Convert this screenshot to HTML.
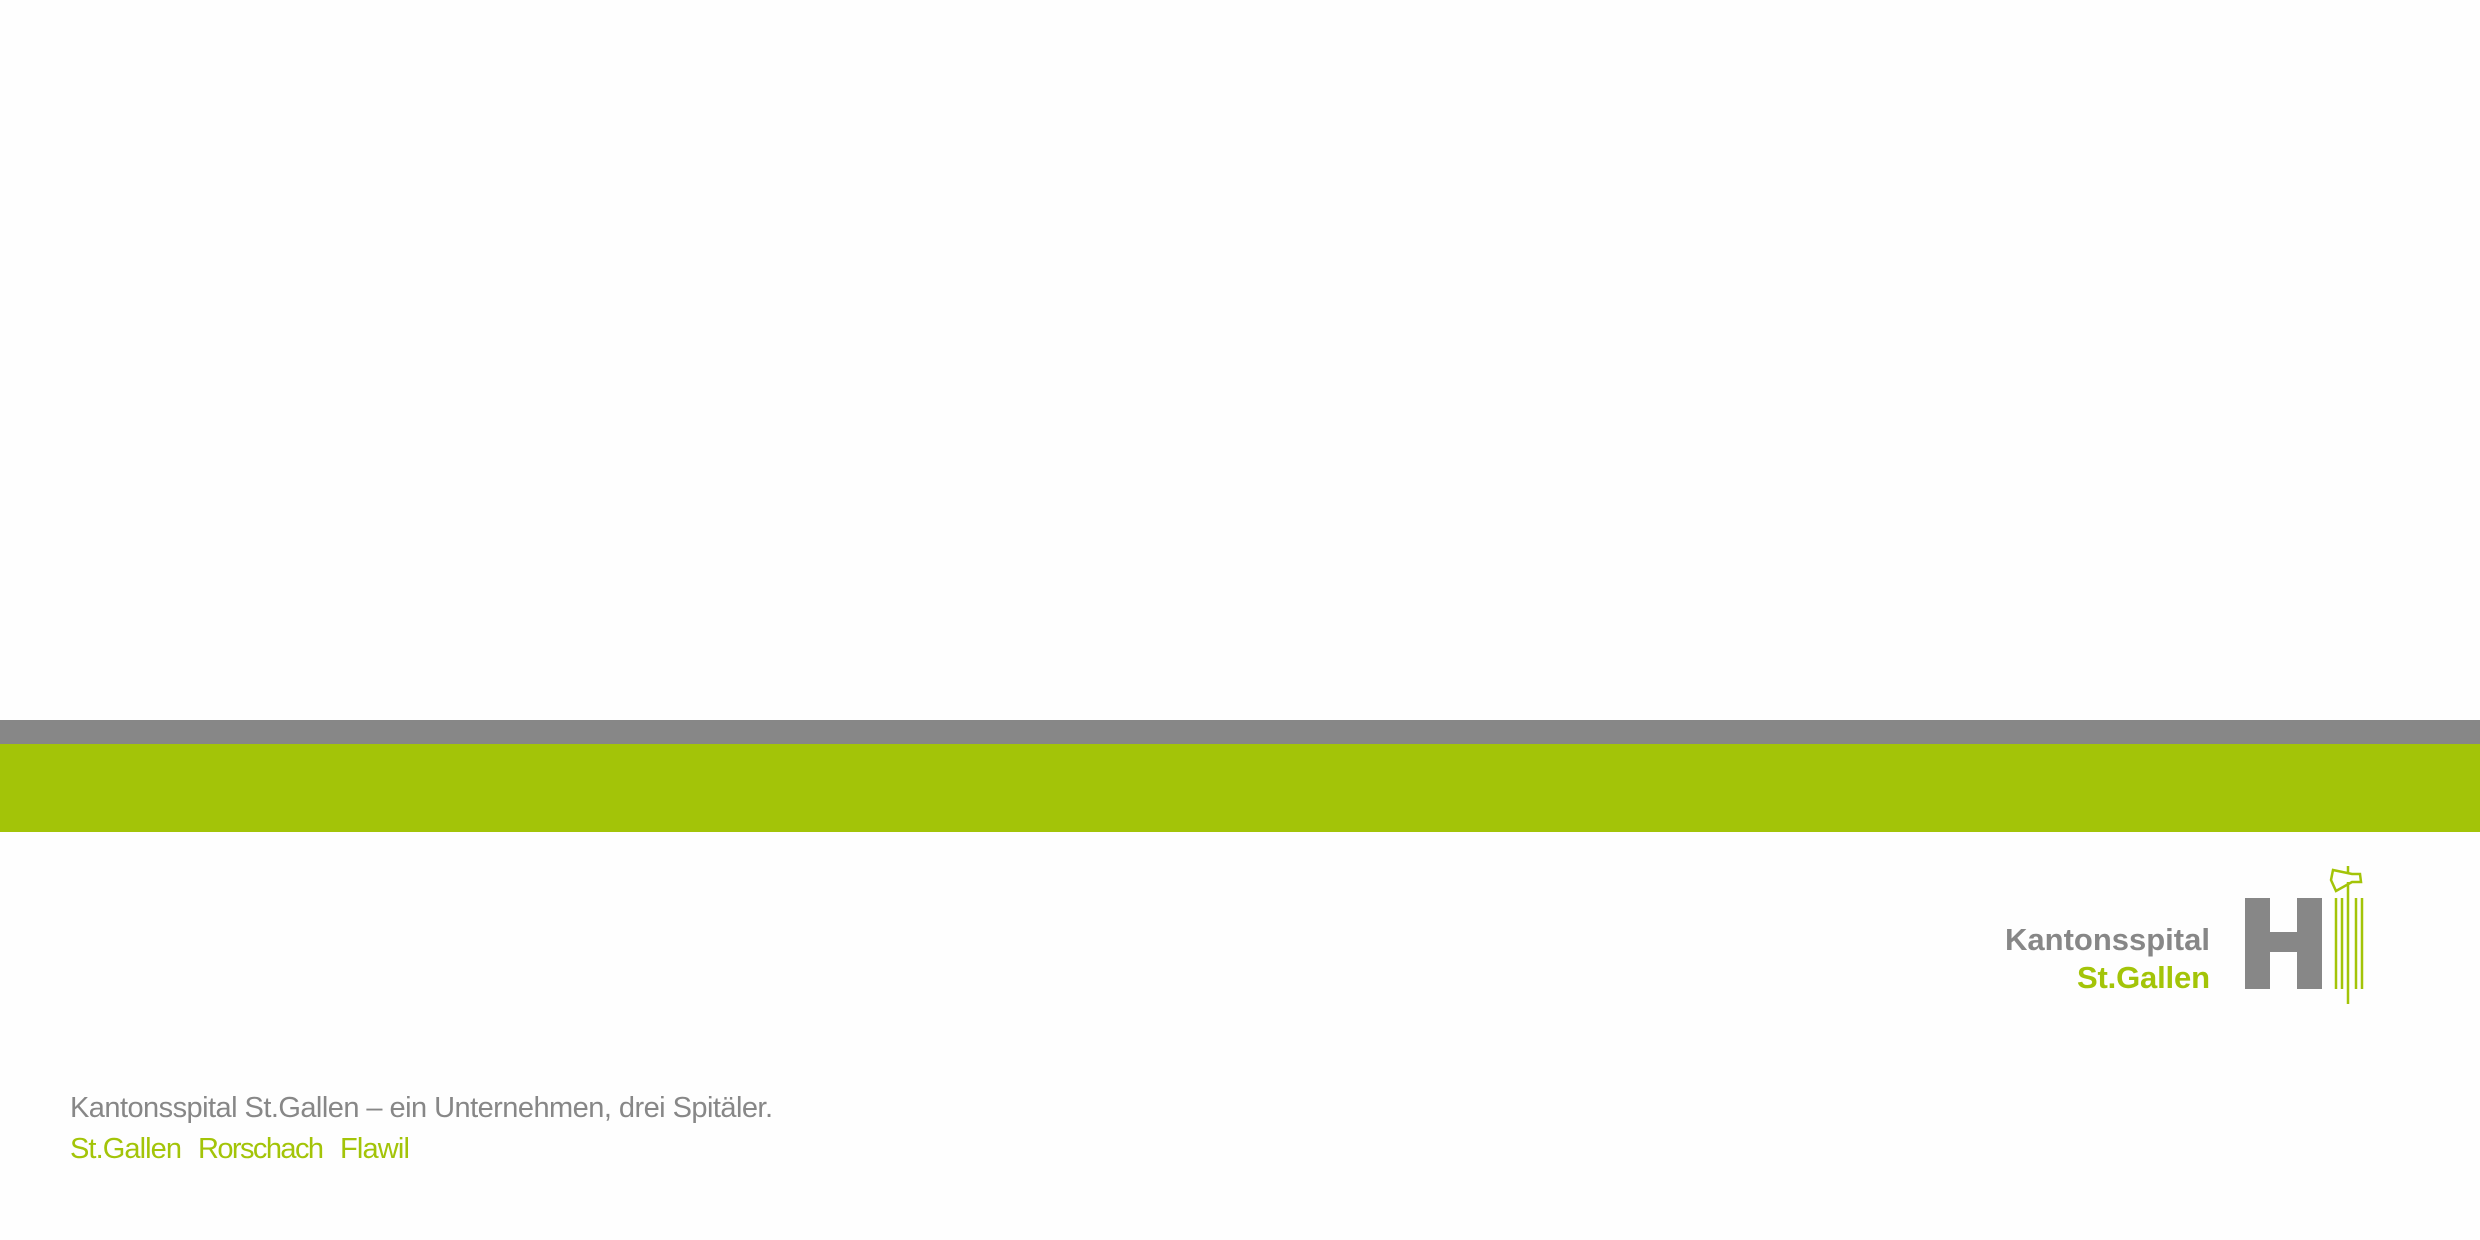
<!DOCTYPE html>
<html><head><meta charset="utf-8"><style>
html,body{margin:0;padding:0;background:#fff;}
svg{display:block}
</style></head><body>
<svg width="2480" height="1240" viewBox="0 0 2480 1240" xmlns="http://www.w3.org/2000/svg">
<rect x="0" y="0" width="2480" height="1240" fill="#fefefe"/>
<rect x="0" y="720" width="2480" height="24" fill="#878787"/>
<rect x="0" y="744" width="2480" height="88" fill="#a3c408"/>
<g>
<text x="2210" y="950" text-anchor="end" font-family="Liberation Sans, sans-serif" font-weight="bold" font-size="31" fill="#878787" textLength="205">Kantonsspital</text>
<text x="2210" y="988" text-anchor="end" font-family="Liberation Sans, sans-serif" font-weight="bold" font-size="31" fill="#a3c408" textLength="133">St.Gallen</text>
<path d="M2245 898h25v34h27v-34h25v91h-25v-37h-27v37h-25z" fill="#878787"/>
<g stroke="#a3c408" stroke-width="2.5" fill="none">
<line x1="2336" y1="898" x2="2336" y2="989"/>
<line x1="2342" y1="898" x2="2342" y2="989"/>
<line x1="2348" y1="882" x2="2348" y2="1004"/>
<line x1="2356" y1="898" x2="2356" y2="989"/>
<line x1="2362" y1="898" x2="2362" y2="989"/>
<path d="M2333 870 L2352 874 L2360 874 L2361 882 L2352 882 L2336 891 L2331 880 Z"/>
<line x1="2348" y1="866" x2="2348" y2="874"/>
</g>
</g>
<text x="70" y="1117" font-family="Liberation Sans, sans-serif" font-size="29" fill="#878787" textLength="703">Kantonsspital St.Gallen – ein Unternehmen, drei Spitäler.</text>
<g font-family="Liberation Sans, sans-serif" font-size="29" fill="#a3c408">
<text x="70" y="1158" textLength="112">St.Gallen</text>
<text x="198" y="1158" textLength="126">Rorschach</text>
<text x="340" y="1158" textLength="70">Flawil</text>
</g>
</svg>
</body></html>
